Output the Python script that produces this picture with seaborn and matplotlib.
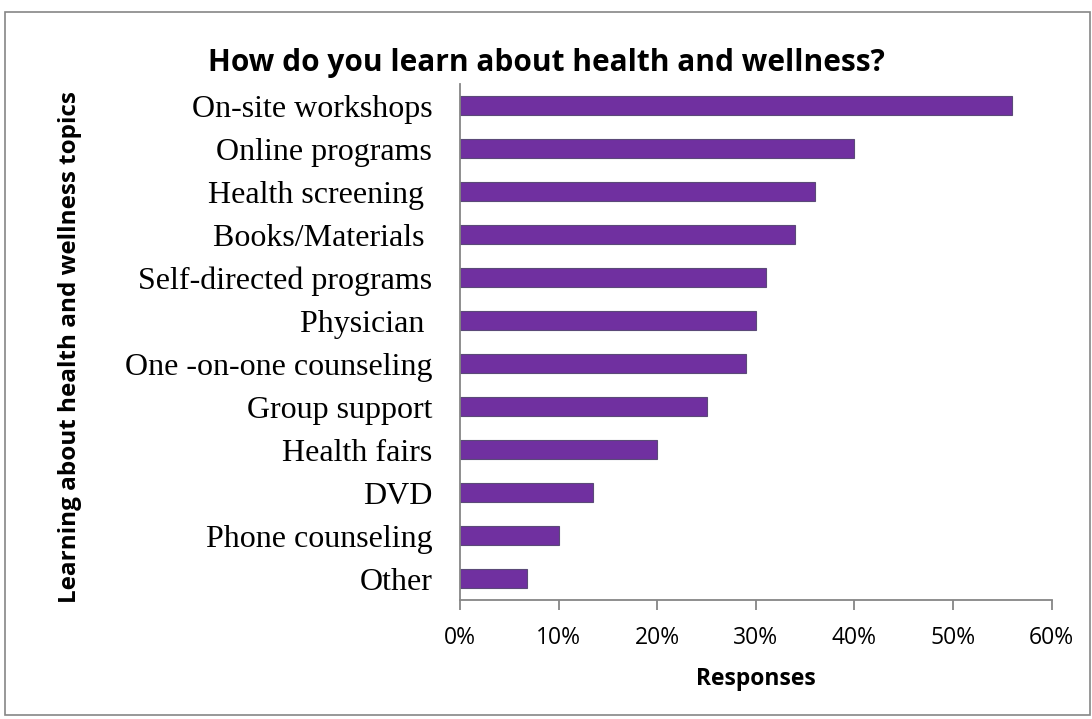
import matplotlib
matplotlib.use("Agg")
import matplotlib.pyplot as plt
from matplotlib.patches import Rectangle
from matplotlib.ticker import FuncFormatter
import seaborn as sns
import pandas as pd

# Survey results: share of respondents per learning channel
categories = [
    "On-site workshops",
    "Online programs",
    "Health screening ",
    "Books/Materials ",
    "Self-directed programs",
    "Physician ",
    "One -on-one counseling",
    "Group support",
    "Health fairs",
    "DVD",
    "Phone counseling",
    "Other",
]
shares = [0.56, 0.40, 0.36, 0.34, 0.31, 0.30, 0.29, 0.25, 0.20, 0.135, 0.10, 0.068]
x_ticks = [0.0, 0.1, 0.2, 0.3, 0.4, 0.5, 0.6]

title_text = "How do you learn about health and wellness?"
x_label = "Responses"
y_label = "Learning about health and wellness topics"

df = pd.DataFrame({"topic": categories, "share": shares})

sns.set_theme(style="white")
plt.rcParams["font.family"] = ["Open Sans", "DejaVu Sans"]

fig = plt.figure(figsize=(10.92, 7.19), dpi=100)
ax = fig.add_axes([0.4212, 0.1655, 0.5419, 0.7175])

sns.barplot(
    data=df, x="share", y="topic", orient="h", ax=ax,
    color="#7030A0", saturation=1, width=0.43,
    edgecolor="#5B4A78", linewidth=0.8,
)

ax.set_xlim(0, 0.6)
ax.set_xticks(x_ticks)
ax.xaxis.set_major_formatter(FuncFormatter(lambda v, p: f"{v * 100:.0f}%"))

for side in ("top", "right"):
    ax.spines[side].set_visible(False)
for side in ("left", "bottom"):
    ax.spines[side].set_color("#868686")
    ax.spines[side].set_linewidth(1.3)

ax.tick_params(axis="x", direction="out", length=7, width=1.3, color="#868686",
               labelsize=16.5, pad=12, bottom=True)
ax.tick_params(axis="y", length=0, pad=20)
for lbl in ax.get_yticklabels():
    lbl.set_fontfamily("Liberation Serif")
    lbl.set_fontsize(23)
    lbl.set_color("black")
for lbl in ax.get_xticklabels():
    lbl.set_color("black")

ax.set_xlabel(x_label, fontsize=16.5, fontweight="bold", labelpad=12, color="black")
ax.set_ylabel("")

fig.text(0.0645, 0.517, y_label, rotation=90, ha="center", va="center",
         fontsize=17.5, fontweight="bold", color="black")
fig.text(0.5, 0.912, title_text, ha="center", va="center",
         fontsize=21.5, fontweight="bold", color="black")

# Outer chart frame
fig.patches.append(Rectangle((0.0046, 0.006), 0.9935, 0.977, transform=fig.transFigure,
                             fill=False, edgecolor="#868686", linewidth=1.2))

fig.savefig("out.png", dpi=100)
